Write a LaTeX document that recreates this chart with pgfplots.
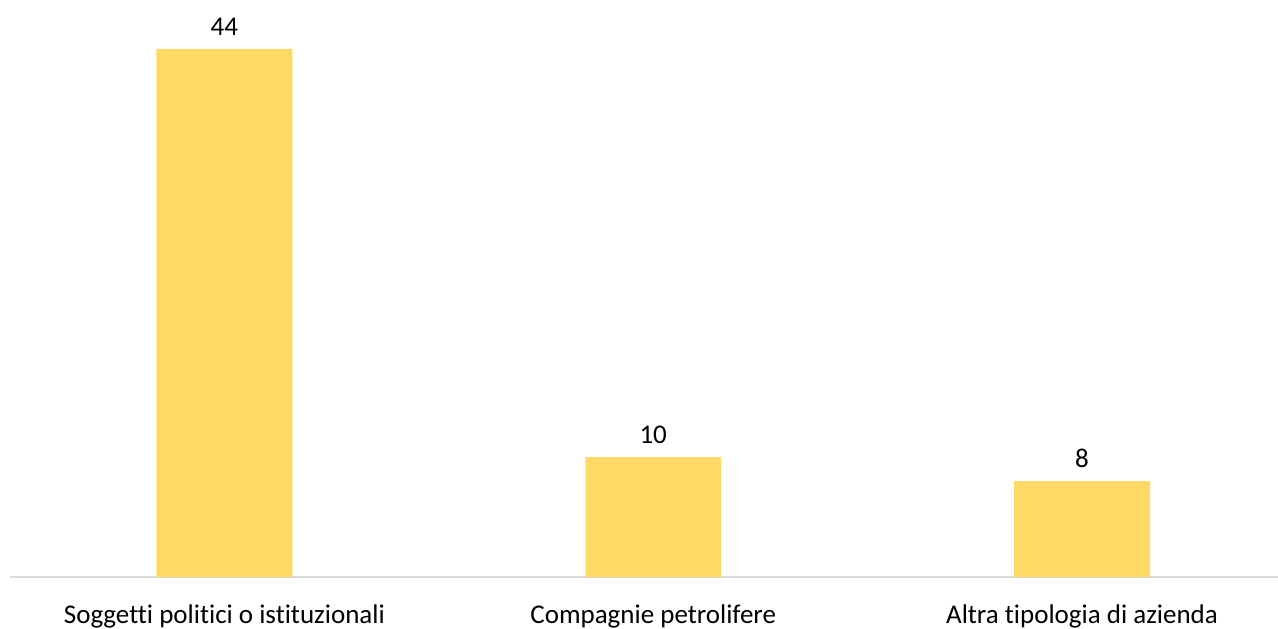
\documentclass[border=0pt]{standalone}
\usepackage{pgfplots}
\pgfplotsset{compat=1.18}
\usepackage{fontspec}
\setmainfont[Ligatures={NoCommon}]{Carlito}
\definecolor{bargold}{HTML}{FFD966}
\definecolor{axgray}{HTML}{D9D9D9}
\begin{document}
\begin{tikzpicture}
\begin{axis}[
  scale only axis,
  width=634pt, height=288.5pt,
  xmin=-0.5, xmax=2.457,
  ymin=0, ymax=48.083,
  axis x line*=bottom,
  axis y line=none,
  x axis line style={draw=axgray, line width=1pt, -},
  xtick={0,1,2},
  xticklabels={Soggetti politici o istituzionali, Compagnie petrolifere, Altra tipologia di azienda},
  xtick style={draw=none},
  xticklabel style={font=\fontsize{13.5}{15}\selectfont, yshift=-6pt},
  ytick=\empty,
  ybar, bar width=0.317,
  clip=false,
  /pgf/number format/assume math mode=true,
  nodes near coords,
  every node near coord/.append style={font=\fontsize{13.5}{15}\selectfont, yshift=3pt},
]
\addplot[fill=bargold, draw=none] coordinates {(0,44) (1,10) (2,8)};
\end{axis}
\pgfresetboundingbox
\useasboundingbox (current axis.south west) ++(-5pt,-25.5pt) rectangle (current axis.north east);
\end{tikzpicture}
\end{document}
